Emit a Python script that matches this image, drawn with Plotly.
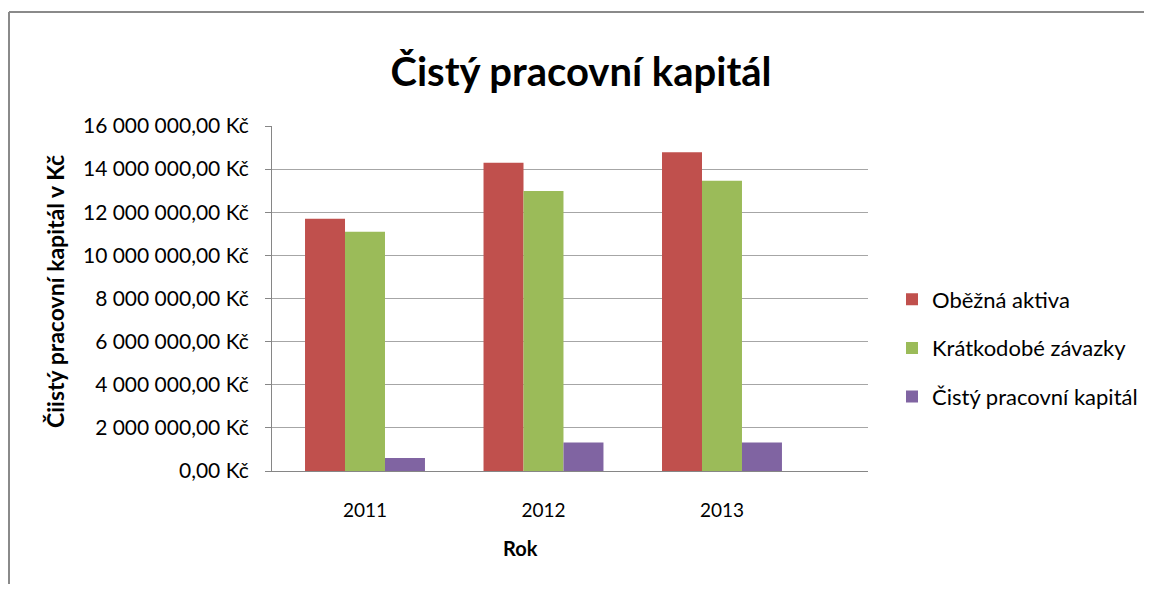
import plotly.graph_objects as go

years = ["2011", "2012", "2013"]
obezna_aktiva = [11700000, 14300000, 14780000]
kratkodobe_zavazky = [11100000, 12980000, 13460000]
cisty_prac_kapital = [600000, 1320000, 1320000]

series_names = ["Oběžná aktiva", "Krátkodobé závazky", "Čistý pracovní kapitál"]
series_colors = ["#C0504D", "#9BBB59", "#8064A2"]

y_ticks = [0, 2000000, 4000000, 6000000, 8000000, 10000000, 12000000, 14000000, 16000000]


def fmt_kc(v):
    s = f"{v:,.2f}".replace(",", " ").replace(".", ",")
    return s + " Kč"


tick_text = [fmt_kc(v) for v in y_ticks]

FONT = "Lato"

fig = go.Figure()
for name, vals, col in zip(series_names, [obezna_aktiva, kratkodobe_zavazky, cisty_prac_kapital], series_colors):
    fig.add_trace(go.Bar(
        x=years, y=vals, name=name, marker=dict(color=col, line=dict(width=0)),
        legendgroup=name,
    ))

# page body has an 8px margin: map reference pixels to figure pixels
OFF = 8
W, H = 1157 - OFF, 592 - 2 * OFF
L, T = 272 - OFF, 126 - OFF
pw, ph = 596, 345
R = W - L - pw
B = H - T - ph


def px2x(px):
    return (px - OFF - L) / pw


def px2y(py):
    return (T + ph - (py - OFF)) / ph


fig.update_layout(
    width=W, height=H,
    margin=dict(l=L, r=R, t=T, b=B, pad=0, autoexpand=False),
    paper_bgcolor="white", plot_bgcolor="white",
    barmode="group", bargap=0.328, bargroupgap=0,
    font=dict(family=FONT, color="#000000", size=19),
    title=dict(text="<b>Čistý pracovní kapitál</b>", x=(581 - OFF) / W, xanchor="center",
               y=1 - (72 - OFF) / H, yanchor="middle",
               font=dict(size=40, family=FONT, color="#000000")),
    xaxis=dict(type="category", range=[-0.521, 2.818], showgrid=False,
               showline=True, linecolor="#868686", linewidth=1, ticks="",
               ticklabelstandoff=22, tickfont=dict(size=19, family=FONT, color="#000000")),
    yaxis=dict(range=[0, 16000000], tickvals=y_ticks, ticktext=tick_text,
               showgrid=True, gridcolor="#A6A6A6", gridwidth=1,
               showline=True, linecolor="#868686", linewidth=1,
               ticks="outside", ticklen=6, tickcolor="#868686",
               ticklabelstandoff=12, zeroline=False,
               tickfont=dict(size=21, family=FONT, color="#000000")),
    legend=dict(x=px2x(892), xanchor="left", y=px2y(348), yanchor="middle",
                tracegroupgap=17, font=dict(size=22, family=FONT, color="#000000"),
                bgcolor="rgba(0,0,0,0)", borderwidth=0),
    showlegend=True,
)

fig.add_annotation(text="<b>Rok</b>", x=px2x(520), y=px2y(548), xref="paper", yref="paper",
                   showarrow=False, xanchor="center", yanchor="middle",
                   font=dict(size=20, family=FONT, color="#000000"))
fig.add_annotation(text="<b>Čiistý pracovní kapitál v Kč</b>", x=px2x(55), y=px2y(292),
                   xref="paper", yref="paper", showarrow=False, textangle=-90,
                   xanchor="center", yanchor="middle",
                   font=dict(size=23, family=FONT, color="#000000"))

# outer chart frame: only the top and left edges are visible in the reference
fig.add_shape(type="line", xref="paper", yref="paper",
              x0=px2x(9), x1=px2x(1144), y0=px2y(12), y1=px2y(12),
              line=dict(color="#8A8A8A", width=2), layer="below")
fig.add_shape(type="line", xref="paper", yref="paper",
              x0=px2x(9), x1=px2x(9), y0=px2y(12), y1=px2y(592),
              line=dict(color="#8A8A8A", width=2), layer="below")

fig.write_html("out.html")
